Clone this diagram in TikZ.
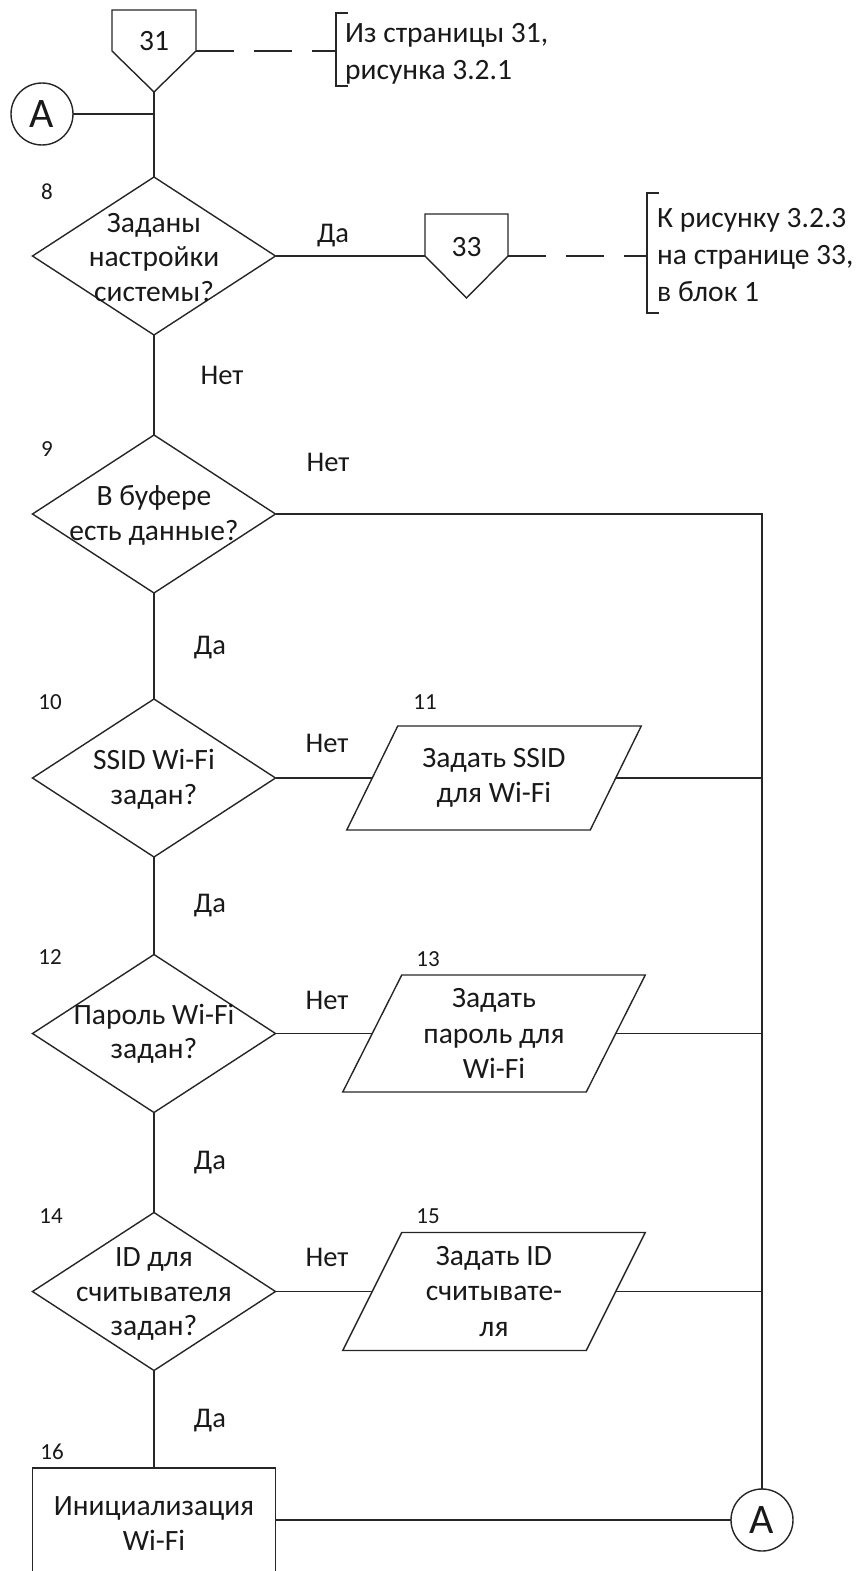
\documentclass[tikz,border=0pt]{standalone}
\usepackage{fontspec}
\setmainfont{Carlito}
\usetikzlibrary{shapes.geometric,calc}
\begin{document}
\begin{tikzpicture}[x=1pt,y=-1pt,
  ln/.style={line width=1.4pt, draw=black!85},
  dashln/.style={ln, dash pattern=on 38pt off 20pt},
  dec/.style={diamond, ln, minimum width=243pt, minimum height=158pt, inner sep=0pt, outer sep=0pt},
  iobox/.style={rectangle, minimum width=243.5pt, inner sep=0pt, outer sep=0pt, align=center, text=black!90, font=\fontsize{29.5}{35.5}\selectfont},
  procbox/.style={rectangle, ln, minimum width=243pt, minimum height=112pt, inner sep=0pt, outer sep=0pt, align=center, text=black!90, font=\fontsize{29.5}{35}\selectfont},
  conn/.style={rectangle, inner sep=0pt, outer sep=0pt},
  circ/.style={circle, ln, minimum size=62pt, inner sep=0pt, outer sep=0pt, text=black!90, font=\fontsize{42}{42}\selectfont},
  txt/.style={align=center, inner sep=0pt, text=black!90, font=\fontsize{29.5}{34.5}\selectfont},
  note/.style={align=left, anchor=west, inner sep=0pt, text=black!90, font=\fontsize{29.5}{37}\selectfont},
  lbl/.style={inner sep=0pt, text=black!90, font=\fontsize{28.5}{30}\selectfont},
  num/.style={inner sep=0pt, text=black!90, font=\fontsize{23}{25}\selectfont}
]
\useasboundingbox (0,0) rectangle (862,1571);
\clip (0,0) rectangle (862,1571);

% off-page connector 31
\node[conn, minimum width=84pt, minimum height=41pt] (c31) at (154,30.5) {};
\draw[ln] (c31.north west) -- (c31.north east) -- (c31.south east) -- ($(c31.south)+(0,41)$) -- (c31.south west) -- cycle;
\node[txt] (t31) at ($(c31.center)+(0,11)$) {31};
\coordinate (c31tip) at ($(c31.south)+(0,41)$);
\coordinate (br1) at (336,51);
\draw[dashln] (c31.south east) -- (br1);
\draw[ln] (348,13) -- (336,13) -- (336,86) -- (348,86);
\node[note] (n1) at (345,54) {Из страницы 31,\\рисунка 3.2.1};

% connector A (top)
\node[circ] (A1) at (42,114) {A};
\coordinate (j1) at (154,114);

% decisions
\node[dec] (d8) at (154,256) {};
\node[txt] (t8) at (154,257.5) {Заданы\\настройки\\системы?};
\node[dec] (d9) at (154,514) {};
\node[txt] (t9) at (154,515.5) {В буфере\\есть данные?};
\node[dec] (d10) at (154,778) {};
\node[txt] (t10) at (154,779.5) {SSID Wi-Fi\\задан?};
\node[dec] (d12) at (154,1033.5) {};
\node[txt] (t12) at (154,1034) {Пароль Wi-Fi\\задан?};
\node[dec] (d14) at (154,1291.5) {};
\node[txt] (t14) at (154,1294) {ID для\\считывателя\\задан?};

% process 16
\node[procbox] (b16) at (154,1524) {Инициализация\\Wi-Fi};

% connector A (bottom)
\node[circ] (A2) at (762,1520) {A};

% off-page connector 33
\node[conn, minimum width=83pt, minimum height=42pt] (c33) at (466.5,235) {};
\draw[ln] (c33.north west) -- (c33.north east) -- (c33.south east) -- ($(c33.south)+(0,42)$) -- (c33.south west) -- cycle;
\node[txt] (t33) at ($(c33.center)+(0,12)$) {33};
\coordinate (br2) at (647,256);
\draw[dashln] (c33.south east) -- (br2);
\draw[ln] (659,193) -- (647,193) -- (647,313) -- (659,313);
\node[note] (n2) at (657,255) {К рисунку 3.2.3\\на странице 33,\\в блок 1};

% input/output parallelograms
\node[iobox, minimum height=104pt] (p11) at (494,778) {Задать SSID\\для Wi-Fi};
\draw[ln] ($(p11.north west)+(25.5,0)$) -- ($(p11.north east)+(25.5,0)$) -- ($(p11.south east)+(-25.5,0)$) -- ($(p11.south west)+(-25.5,0)$) -- cycle;
\node[iobox, minimum height=117pt] (p13) at (494,1033.5) {Задать\\пароль для\\Wi-Fi};
\draw[ln] ($(p13.north west)+(29.5,0)$) -- ($(p13.north east)+(29.5,0)$) -- ($(p13.south east)+(-29.5,0)$) -- ($(p13.south west)+(-29.5,0)$) -- cycle;
\node[iobox, minimum height=118pt] (p15) at (494,1291.5) {Задать ID\\считывате-\\ля};
\draw[ln] ($(p15.north west)+(29.5,0)$) -- ($(p15.north east)+(29.5,0)$) -- ($(p15.south east)+(-29.5,0)$) -- ($(p15.south west)+(-29.5,0)$) -- cycle;

% connectors
\draw[ln] (c31tip) -- (d8.north);
\draw[ln] (A1.east) -- (j1);
\draw[ln] (d8.south) -- (d9.north);
\draw[ln] (d9.south) -- (d10.north);
\draw[ln] (d10.south) -- (d12.north);
\draw[ln] (d12.south) -- (d14.north);
\draw[ln] (d14.south) -- (b16.north);
\draw[ln] (d8.east) -- (c33.south west);
\draw[ln] (d9.east) -- (d9.east -| A2) -- (A2.north);
\draw[ln] (d10.east) -- (p11.west);
\draw[ln] (p11.east) -- (p11.east -| A2);
\draw[ln] (d12.east) -- (p13.west);
\draw[ln] (p13.east) -- (p13.east -| A2);
\draw[ln] (d14.east) -- (p15.west);
\draw[ln] (p15.east) -- (p15.east -| A2);
\draw[ln] (A2.west -| b16.east) -- (A2.west);

% branch labels
\node[lbl] (l1) at (333,236) {Да};
\node[lbl] (l2) at (222,375) {Нет};
\node[lbl] (l3) at (328,462) {Нет};
\node[lbl] (l4) at (210,648) {Да};
\node[lbl] (l5) at (327,743) {Нет};
\node[lbl] (l6) at (210,906) {Да};
\node[lbl] (l7) at (327,1000) {Нет};
\node[lbl] (l8) at (210,1163) {Да};
\node[lbl] (l9) at (327,1257) {Нет};
\node[lbl] (l10) at (210,1421) {Да};

% block numbers
\node[num] (k8) at (47,192) {8};
\node[num] (k9) at (47,449) {9};
\node[num] (k10) at (50,702) {10};
\node[num] (k11) at (425,702) {11};
\node[num] (k12) at (50,957) {12};
\node[num] (k13) at (428,959) {13};
\node[num] (k14) at (51,1216) {14};
\node[num] (k15) at (428,1216) {15};
\node[num] (k16) at (52,1452) {16};
\end{tikzpicture}
\end{document}
